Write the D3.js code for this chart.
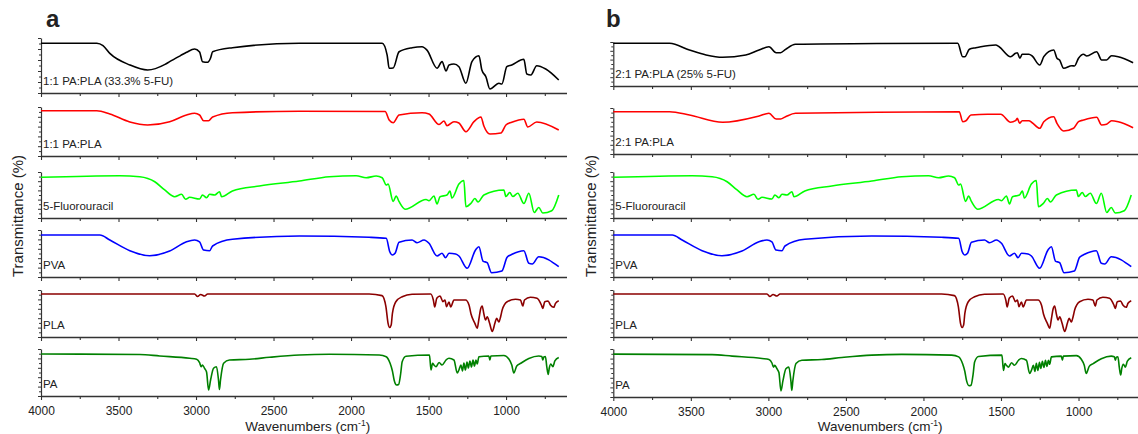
<!DOCTYPE html>
<html><head><meta charset="utf-8">
<script src="https://cdn.jsdelivr.net/npm/d3@7"></script>
<style>body{margin:0;background:#fff}svg{display:block}text{font-family:Arial,"Liberation Sans",sans-serif;fill:#222}</style>
</head><body><svg id="c" width="1138" height="434"></svg>
<script>
// ---------- data ----------
const xMajorTicks = [4000, 3500, 3000, 2500, 2000, 1500, 1000];
const xMinorTicks = [3750, 3250, 2750, 2250, 1750, 1250, 750];
const namesA = ["1:1 PA:PLA (33.3% 5-FU)", "1:1 PA:PLA", "5-Fluorouracil", "PVA", "PLA", "PA"];
const namesB = ["2:1 PA:PLA (25% 5-FU)", "2:1 PA:PLA", "5-Fluorouracil", "PVA", "PLA", "PA"];
const panelLetters = ["a", "b"];

// [wavenumber cm-1, relative transmittance]
const blend11FU = [[4000,90.4],[3640,90.4],[3600,86],[3556,72],[3427,51],[3312,41.8],[3200,52],[3170,57],[3100,68],[3061,74],[3009,80],[2977,74.5],[2958,57],[2925,55.8],[2906,63.6],[2893,75],[2765,82.4],[2333,90.4],[1799,90.4],[1767,69],[1754,45],[1728,45.5],[1690,75],[1606,82.4],[1542,84.2],[1510,78],[1445,45],[1413,57],[1387,40],[1368,51],[1336,52.7],[1304,47.8],[1259,17.6],[1220,57],[1175,67.8],[1156,41.8],[1130,29.6],[1104,7.3],[1046,17.6],[1027,16.4],[995,47.8],[963,51],[885,61.3],[866,34.5],[840,32.7],[802,49.6],[744,43.6],[660,23.6]];
const blend11 = [[4000,92.4],[3640,92.4],[3556,85.7],[3427,69.4],[3312,63.3],[3170,70],[3061,83.7],[3009,87.1],[2977,83.7],[2951,72],[2919,72],[2893,79.6],[2765,88.4],[2333,91.4],[1780,90.8],[1754,73.5],[1728,68],[1690,83.7],[1542,88.4],[1497,85.7],[1432,64.3],[1400,71.4],[1381,61.8],[1336,70],[1304,67.3],[1259,49.6],[1207,70],[1162,79.6],[1143,61.2],[1104,44.9],[1033,46.9],[1001,63.3],[963,68.8],[885,75.1],[860,59.2],[802,69.4],[660,53]];
const blend21FU = [[4000,97],[3637,97],[3509,81.8],[3402,70.5],[3295,65.2],[3146,70.5],[3060,81.8],[2996,89.3],[2950,75.7],[2921,75.7],[2889,83.4],[2825,94.8],[2300,96.6],[1779,97],[1747,66.6],[1733,66.6],[1704,83.4],[1662,87],[1630,89.3],[1534,93.2],[1512,89.3],[1438,66.6],[1406,74.3],[1395,75.7],[1378,63],[1363,72],[1320,72],[1299,68.2],[1250,47.7],[1224,66.6],[1192,78],[1160,81.8],[1139,63],[1122,59.1],[1096,40.2],[1043,46.1],[1026,45.5],[1000,63],[968,72],[947,68.2],[883,78],[851,59.1],[819,59.1],[787,68.9],[744,66.6],[648,53]];
const blend21 = [[4000,92],[3637,92],[3509,84.8],[3295,68.9],[3060,82.6],[2996,88.5],[2950,76.1],[2921,76.1],[2889,81.1],[2825,88.5],[1769,92],[1747,70.2],[1726,72.4],[1694,84.8],[1587,86.3],[1502,86.3],[1438,68.9],[1406,72.4],[1395,77.6],[1380,66.7],[1363,72.4],[1320,72.4],[1299,68],[1250,55.9],[1224,70.2],[1160,81.1],[1139,66.7],[1096,50],[1032,55.9],[1000,70.2],[968,73.9],[883,79.8],[851,63],[819,64.6],[787,72.4],[744,70.2],[648,57.2]];
const fluorouracil = [[4000,88.5],[3492,92],[3363,89.8],[3266,78.9],[3202,60.9],[3138,46.3],[3093,51.5],[3067,40.7],[3041,45],[2977,41.3],[2958,50],[2932,44.1],[2912,51.5],[2880,50],[2848,57.2],[2835,46.3],[2765,58.7],[2591,69.6],[2333,80.4],[2140,89.8],[1967,92],[1902,87.6],[1838,91.3],[1799,87.6],[1773,71.7],[1761,73.9],[1728,35.9],[1709,47.8],[1690,35.4],[1651,18.9],[1516,40.2],[1497,37.6],[1465,47.8],[1445,30.4],[1426,46.3],[1381,50],[1362,58.7],[1349,43.5],[1304,73.9],[1272,81.5],[1259,24.6],[1226,32],[1201,42.4],[1181,34.8],[1143,50],[1014,60.9],[1001,46.7],[976,55.4],[956,46.7],[924,53.7],[885,31.5],[853,53.7],[818,12],[789,22.8],[763,10.9],[705,15.9],[660,50]];
const pva = [[4000,89.4],[3620,89.4],[3556,78.7],[3427,56],[3299,45.3],[3170,55.3],[3061,75.1],[3009,78.7],[2977,74.5],[2951,57.4],[2912,56],[2893,66],[2765,80.2],[2333,87.2],[1883,84.5],[1773,82.3],[1750,53.8],[1733,46.8],[1716,50.4],[1690,73.8],[1606,78.7],[1574,73],[1529,78.7],[1497,71.7],[1445,44.7],[1413,50.4],[1390,41.1],[1368,50.4],[1325,48.9],[1304,44.7],[1251,18.5],[1197,57.4],[1175,64.5],[1149,34],[1122,30.4],[1093,9.1],[1027,12.8],[993,41.9],[961,48.3],[885,56],[853,29.1],[831,27.7],[789,43.2],[660,21.9]];
const pla = [[4000,91.5],[3009,91.5],[2990,86.2],[2970,90.4],[2945,87.2],[2925,91.5],[1883,91.5],[1800,88],[1775,64.5],[1761,29.1],[1751,20.2],[1741,25.5],[1733,50.4],[1711,75.1],[1670,85.7],[1606,90.9],[1486,91.5],[1469,78.7],[1460,63.8],[1447,82.3],[1426,87.2],[1407,75.1],[1394,78.7],[1384,64.5],[1368,74.5],[1357,63.8],[1336,78.7],[1261,78.7],[1239,68.1],[1226,48.9],[1201,29.1],[1186,18.5],[1175,38.3],[1164,59.6],[1154,66],[1143,48.9],[1132,36.2],[1121,43.2],[1106,29.1],[1089,11.7],[1072,29.1],[1061,39.8],[1046,31.9],[1035,43.2],[1025,57.4],[993,75.1],[939,80.2],[907,78.7],[892,66],[881,78.7],[843,84.5],[800,82.3],[772,68.1],[763,61],[750,75.1],[729,76.6],[714,68.1],[692,63.2],[681,71.7],[660,77.2]];
const pa = [[4000,89.4],[3363,88.3],[3234,85.1],[3041,80.2],[2996,78.1],[2977,70.9],[2967,62.3],[2958,66],[2945,58.9],[2932,51.1],[2919,12.8],[2906,34],[2887,58.9],[2868,62.3],[2855,34],[2849,13.8],[2842,34],[2822,69.6],[2784,76.6],[2655,78.1],[2526,82.3],[2333,87.2],[2140,88.7],[1818,87.2],[1773,83.6],[1748,69.6],[1733,53.2],[1722,34],[1706,23.4],[1693,24.5],[1680,46.8],[1670,73],[1645,84.5],[1494,87.2],[1484,55.3],[1474,69.6],[1465,66],[1452,62.3],[1432,71.3],[1413,66],[1387,76.6],[1368,80.2],[1336,76.6],[1315,48.9],[1304,55.3],[1291,66],[1281,53.2],[1272,70.2],[1262,55.3],[1252,72.3],[1243,59.6],[1233,74.5],[1223,61.7],[1213,76.6],[1204,63.8],[1194,76.6],[1186,68.1],[1175,83.6],[1111,85.1],[1104,76.6],[1098,85.1],[1014,86.2],[982,78.7],[963,66],[950,48.9],[931,63.8],[905,69.6],[853,79.8],[789,85.1],[769,84],[763,76.6],[756,83],[746,84],[737,61.7],[728,45.7],[721,59.6],[711,68.1],[698,62.3],[685,74.5],[660,81.9]];

// ---------- layout ----------
const colors = ["#000000", "#ff0000", "#00ff00", "#0000ff", "#8b0000", "#008000"];
const panels = [
  {letter: panelLetters[0], left: 41, right: 566.5, tops: [38,107,172,230,290,349], bottoms: [93,156,218,277,337,396],
   names: namesA, series: [blend11FU, blend11, fluorouracil, pva, pla, pa], letterX: 46, yTitleX: 23},
  {letter: panelLetters[1], left: 613.3, right: 1139, tops: [42,108,172,230,290,349], bottoms: [86,154,218,277,337,397],
   names: namesB, series: [blend21FU, blend21, fluorouracil, pva, pla, pa], letterX: 606, yTitleX: 596}
];

const svg = d3.select("#c");

panels.forEach(p => {
  const g = svg.append("g");
  const x = d3.scaleLinear().domain([4000, 610]).range([p.left, p.right]);
  p.series.forEach((data, i) => {
    const top = p.tops[i], bottom = p.bottoms[i];
    const y = d3.scaleLinear().domain([0, 100]).range([bottom, top]);
    const last = i === p.series.length - 1;

    const ax = g.append("g").attr("transform", `translate(0,${bottom})`)
      .call(d3.axisBottom(x).tickValues(xMajorTicks).tickSize(4).tickSizeOuter(0).tickPadding(6)
        .tickFormat(last ? d3.format("d") : ""));
    ax.select(".domain").attr("stroke", "#333").attr("stroke-width", 1.3);
    ax.selectAll(".tick line").attr("stroke", "#333").attr("stroke-width", 1.1);
    ax.selectAll("text").attr("font-size", 12).attr("fill", "#222").style("font-family", "Arial, 'Liberation Sans', sans-serif");
    const axm = g.append("g").attr("transform", `translate(0,${bottom})`)
      .call(d3.axisBottom(x).tickValues(xMinorTicks).tickSize(3).tickFormat(""));
    axm.select(".domain").remove();
    axm.selectAll(".tick line").attr("stroke", "#333").attr("stroke-width", 1.1);

    const ay = g.append("g").attr("transform", `translate(${p.left},0)`)
      .call(d3.axisLeft(y).tickValues(d3.range(0, 101, 20)).tickSize(3).tickSizeOuter(0).tickFormat(""));
    ay.select(".domain").attr("stroke", "#333").attr("stroke-width", 1.2);
    ay.selectAll(".tick line").attr("stroke", "#333").attr("stroke-width", 1);
    const aym = g.append("g").attr("transform", `translate(${p.left},0)`)
      .call(d3.axisLeft(y).tickValues(d3.range(10, 100, 20)).tickSize(2).tickFormat(""));
    aym.select(".domain").remove();
    aym.selectAll(".tick line").attr("stroke", "#333").attr("stroke-width", 1);

    const line = d3.line().x(d => x(d[0])).y(d => y(d[1])).curve(d3.curveMonotoneX);
    g.append("path").datum(data).attr("d", line).attr("fill", "none")
      .attr("stroke", colors[i]).attr("stroke-width", 1.6).attr("stroke-linejoin", "round");

    g.append("text").attr("x", p.left + 2).attr("y", bottom - 8)
      .attr("font-size", 11.5).text(p.names[i]);
  });

  g.append("text").attr("x", p.letterX).attr("y", 26.5).attr("font-size", 24)
    .attr("font-weight", "bold").attr("fill", "#000").text(p.letter);

  g.append("text").attr("transform", `translate(${p.yTitleX},216) rotate(-90)`)
    .attr("text-anchor", "middle").attr("font-size", 15).text("Transmittance (%)");

  const xt = g.append("text").attr("x", (p.left + p.right) / 2 + 4).attr("y", 431)
    .attr("text-anchor", "middle").attr("font-size", 13.5);
  xt.append("tspan").text("Wavenumbers (cm");
  xt.append("tspan").attr("dy", -5).attr("font-size", 8.5).text("-1");
  xt.append("tspan").attr("dy", 5).text(")");
});
</script></body></html>
